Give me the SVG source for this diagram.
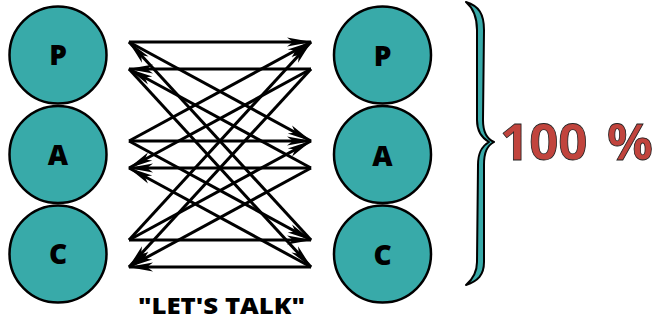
<svg xmlns="http://www.w3.org/2000/svg" width="659" height="326" viewBox="0 0 659 326">
<style>
.node circle{fill:#38AAA9;stroke:#000;stroke-width:2.5}
.node text{font-family:"Open Sans","Liberation Sans",sans-serif;font-weight:800;font-size:28px;text-anchor:middle;fill:#000}
.conn line{stroke:#000;stroke-width:3;fill:none}
.lr{marker-end:url(#ah)}
.lbl{font-family:"Open Sans","Liberation Sans",sans-serif;font-weight:800;fill:#000}
.pct{font-family:"Open Sans","Liberation Sans",sans-serif;font-weight:700;font-size:51px;fill:#C1443D;stroke:#222;stroke-width:0.8}
</style>
<defs>
<marker id="ah" markerUnits="userSpaceOnUse" markerWidth="30" markerHeight="12" viewBox="-26 -6 28 12" refX="0" refY="0" orient="auto">
<path d="M1,0 L-24,-4.5 L-18,0 L-24,4.5 Z" fill="#000"/>
</marker>
</defs>
<g id="left-P" class="node"><circle cx="58" cy="55" r="48.5"/><text x="58" y="65">P</text></g>
<g id="left-A" class="node"><circle cx="58" cy="154.5" r="48.5"/><text x="58" y="164.5">A</text></g>
<g id="left-C" class="node"><circle cx="58" cy="254" r="48.5"/><text x="58" y="264">C</text></g>
<g id="right-P" class="node"><circle cx="382.5" cy="55" r="48.5"/><text x="382.5" y="66">P</text></g>
<g id="right-A" class="node"><circle cx="382.5" cy="154.5" r="48.5"/><text x="382.5" y="166">A</text></g>
<g id="right-C" class="node"><circle cx="382.5" cy="254" r="48.5"/><text x="382.5" y="265">C</text></g>
<g id="connectors" class="conn">
<line class="lr" x1="129" y1="42" x2="311" y2="42"/>
<line class="lr" x1="129" y1="141" x2="311" y2="141"/>
<line class="lr" x1="129" y1="240" x2="311" y2="240"/>
<line class="lr" x1="129" y1="141" x2="311" y2="42"/>
<line class="lr" x1="129" y1="240" x2="311" y2="42"/>
<line class="lr" x1="129" y1="42" x2="311" y2="141"/>
<line class="lr" x1="129" y1="240" x2="311" y2="141"/>
<line class="lr" x1="129" y1="141" x2="311" y2="240"/>
<line class="lr" x1="129" y1="69" x2="311" y2="267"/>
<line class="lr" x1="311" y1="69" x2="129" y2="69"/>
<line class="lr" x1="311" y1="168" x2="129" y2="168"/>
<line class="lr" x1="311" y1="267" x2="129" y2="267"/>
<line class="lr" x1="311" y1="240" x2="129" y2="42"/>
<line class="lr" x1="311" y1="168" x2="129" y2="69"/>
<line class="lr" x1="311" y1="267" x2="129" y2="168"/>
<line class="lr" x1="311" y1="69" x2="129" y2="267"/>
<line class="lr" x1="311" y1="168" x2="129" y2="267"/>
<line class="lr" x1="311" y1="69" x2="129" y2="168"/>
</g>
<g id="brace">
<path d="M466,2 C479,6 484,14 484,30 L483,120 C483,133 487,139 494,142 C487,146 484,152 484,165 L484,262 C484,275 478,281 466,285 C473,279 477,272 477,262 L478,165 C478,152 482,146 489,142 C482,138 477,132 477,120 L477,30 C477,16 473,8 466,2 Z" fill="#38AAA9" stroke="#000" stroke-width="2" stroke-linejoin="round"/>
</g>
<text class="pct" x="500" y="160">100 <tspan x="607">%</tspan></text>
<text class="lbl" x="138" y="314" font-size="23" textLength="167" lengthAdjust="spacingAndGlyphs">"LET'S TALK"</text>
</svg>
